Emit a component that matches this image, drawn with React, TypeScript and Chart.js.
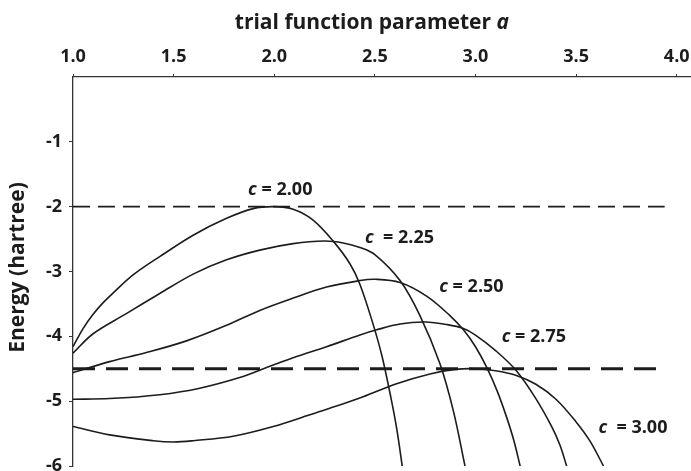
import React, { useEffect, useRef } from 'react';
import { Chart, registerables } from 'chart.js';

Chart.register(...registerables);

// ---- data (trial function parameter a, energy in hartree) ----
const c200A = [1.0, 1.05, 1.1, 1.15, 1.2, 1.3, 1.431, 1.597, 1.763, 1.895, 2.0, 2.094, 2.19, 2.29, 2.376, 2.426, 2.49, 2.535, 2.58, 2.61, 2.636];
const c200E = [-4.16, -3.88, -3.66, -3.48, -3.33, -3.05, -2.77, -2.44, -2.18, -2.03, -2.0, -2.04, -2.2, -2.52, -2.88, -3.2, -3.8, -4.3, -4.95, -5.45, -6.0];

const c225A = [1.0, 1.1, 1.265, 1.431, 1.597, 1.763, 1.928, 2.094, 2.25, 2.343, 2.426, 2.5, 2.625, 2.724, 2.823, 2.89, 2.948];
const c225E = [-4.26, -3.96, -3.65, -3.34, -3.04, -2.82, -2.67, -2.57, -2.53, -2.56, -2.63, -2.74, -3.14, -3.68, -4.42, -5.15, -6.0];

const c250A = [1.0, 1.182, 1.365, 1.564, 1.763, 1.928, 2.094, 2.26, 2.426, 2.5, 2.625, 2.757, 2.873, 2.94, 3.0, 3.056, 3.11, 3.155, 3.19, 3.222];
const c250E = [-4.56, -4.39, -4.25, -4.07, -3.83, -3.6, -3.41, -3.24, -3.14, -3.12, -3.17, -3.38, -3.68, -3.9, -4.16, -4.48, -4.86, -5.25, -5.6, -6.0];

const c275A = [1.0, 1.182, 1.431, 1.63, 1.845, 1.962, 2.094, 2.26, 2.426, 2.509, 2.625, 2.75, 2.86, 2.94, 3.0, 3.1, 3.2, 3.3, 3.38, 3.42, 3.453];
const c275E = [-4.97, -4.96, -4.9, -4.8, -4.62, -4.48, -4.33, -4.16, -3.98, -3.9, -3.81, -3.78, -3.82, -3.88, -3.98, -4.22, -4.52, -4.96, -5.4, -5.68, -6.0];

const c300A = [1.0, 1.182, 1.398, 1.5, 1.597, 1.796, 1.995, 2.177, 2.276, 2.442, 2.608, 2.774, 2.9, 3.0, 3.1, 3.2, 3.3, 3.4, 3.5, 3.57, 3.636];
const c300E = [-5.39, -5.52, -5.61, -5.63, -5.61, -5.54, -5.39, -5.21, -5.11, -4.93, -4.73, -4.58, -4.51, -4.5, -4.53, -4.6, -4.74, -4.97, -5.32, -5.62, -6.0];

const refLevelUpper = -2.0;
const refLevelLower = -4.5;
const refLineA = [1.0, 3.94];

const xTicks = [1.0, 1.5, 2.0, 2.5, 3.0, 3.5, 4.0];
const yTicks = [-1, -2, -3, -4, -5, -6];

const curveNames = ['2.00', '2.25', '2.50', '2.75', '3.00'];
const curveLabelRest = [' = 2.00', '  = 2.25', ' = 2.50', ' = 2.75', '  = 3.00'];
const curveLabelA = [1.87, 2.451, 2.82, 3.13, 3.611];
const curveLabelE = [-1.823, -2.567, -3.313, -4.083, -5.495];

const xTitle = 'trial function parameter ';
const xTitleItalic = 'a';
const yTitle = 'Energy (hartree)';

const FONT = '"Open Sans", "DejaVu Sans", sans-serif';
const INK = '#1c1c1c';

const toPoints = (xs: number[], ys: number[]) => xs.map((v, i) => ({ x: v, y: ys[i] }));

const annotPlugin = {
  id: 'annot',
  afterDraw(chart: any) {
    const { ctx, scales } = chart;
    const x = scales.x;
    const y = scales.y;
    const area = chart.chartArea;
    ctx.save();
    ctx.fillStyle = INK;
    ctx.textAlign = 'left';
    ctx.textBaseline = 'alphabetic';

    // x-axis title (top)
    ctx.font = `bold 21px ${FONT}`;
    const w1 = ctx.measureText(xTitle).width;
    ctx.font = `italic bold 21px ${FONT}`;
    const w2 = ctx.measureText(xTitleItalic).width;
    const cx = (x.getPixelForValue(xTicks[0]) + x.getPixelForValue(xTicks[xTicks.length - 1])) / 2 - 3;
    const sx = cx - (w1 + w2) / 2;
    ctx.font = `bold 21px ${FONT}`;
    ctx.fillText(xTitle, sx, 28.5);
    ctx.font = `italic bold 21px ${FONT}`;
    ctx.fillText(xTitleItalic, sx + w1, 28.5);

    // y-axis title
    ctx.save();
    ctx.translate(23.5, (area.top + area.bottom) / 2 - 4);
    ctx.rotate(-Math.PI / 2);
    ctx.textAlign = 'center';
    ctx.font = `bold 21px ${FONT}`;
    ctx.fillText(yTitle, 0, 0);
    ctx.restore();

    // curve labels
    for (let i = 0; i < curveNames.length; i++) {
      const px = x.getPixelForValue(curveLabelA[i]);
      const py = y.getPixelForValue(curveLabelE[i]);
      ctx.font = `italic bold 18px ${FONT}`;
      ctx.fillText('c', px, py);
      const cw = ctx.measureText('c').width;
      ctx.font = `bold 18px ${FONT}`;
      ctx.fillText(curveLabelRest[i], px + cw, py);
    }
    ctx.restore();
  },
};

export default function App() {
  const ref = useRef<HTMLCanvasElement | null>(null);

  useEffect(() => {
    if (!ref.current) return;
    const curveStyle = {
      borderColor: INK,
      borderWidth: 1.6,
      pointRadius: 0,
      showLine: true,
      fill: false,
      tension: 0.35,
    };
    const chart = new Chart(ref.current, {
      type: 'scatter',
      data: {
        datasets: [
          { ...curveStyle, label: 'c = ' + curveNames[0], data: toPoints(c200A, c200E) },
          { ...curveStyle, label: 'c = ' + curveNames[1], data: toPoints(c225A, c225E) },
          { ...curveStyle, label: 'c = ' + curveNames[2], data: toPoints(c250A, c250E) },
          { ...curveStyle, label: 'c = ' + curveNames[3], data: toPoints(c275A, c275E) },
          { ...curveStyle, label: 'c = ' + curveNames[4], data: toPoints(c300A, c300E) },
          {
            label: 'E = -2',
            data: refLineA.map((a) => ({ x: a, y: refLevelUpper })),
            showLine: true,
            borderColor: INK,
            borderWidth: 1.8,
            borderDash: [17, 8],
            pointRadius: 0,
          },
          {
            label: 'E = -4.5',
            data: refLineA.map((a) => ({ x: a, y: refLevelLower })),
            showLine: true,
            borderColor: INK,
            borderWidth: 3,
            borderDash: [22, 11],
            pointRadius: 0,
          },
        ],
      },
      options: {
        animation: false,
        responsive: false,
        devicePixelRatio: 1,
        layout: { padding: { top: 0, left: 0, right: 1, bottom: 14 } },
        plugins: { legend: { display: false }, tooltip: { enabled: false } },
        scales: {
          x: {
            type: 'linear',
            position: 'top',
            min: 1.0,
            max: 4.066,
            afterBuildTicks: (s: any) => {
              s.ticks = xTicks.map((v) => ({ value: v }));
            },
            afterFit: (s: any) => {
              s.height = 77;
              s.paddingLeft = 0;
              s.paddingRight = 0;
            },
            ticks: {
              color: INK,
              font: { family: FONT, size: 18, weight: 'bold' },
              padding: 6,
              maxRotation: 0,
              autoSkip: false,
              callback: (v: any) => Number(v).toFixed(1),
            },
            grid: { drawOnChartArea: false, drawTicks: true, tickLength: 3, color: '#333', lineWidth: 1 },
            border: { color: '#333', width: 1.3 },
          },
          y: {
            type: 'linear',
            min: -6,
            max: 0,
            afterBuildTicks: (s: any) => {
              s.ticks = yTicks.map((v) => ({ value: v }));
            },
            afterFit: (s: any) => {
              s.width = 73;
              s.paddingTop = 0;
              s.paddingBottom = 0;
            },
            ticks: {
              color: INK,
              font: { family: FONT, size: 18, weight: 'bold' },
              padding: 7,
              autoSkip: false,
              callback: (v: any) => String(v),
            },
            grid: { drawOnChartArea: false, drawTicks: true, tickLength: 4, color: '#333', lineWidth: 1 },
            border: { color: '#333', width: 1.3 },
          },
        },
      },
      plugins: [annotPlugin],
    });
    return () => chart.destroy();
  }, []);

  return (
    <div
      style={{
        position: 'fixed',
        left: 0,
        top: 0,
        width: 691,
        height: 471,
        overflow: 'hidden',
        background: '#fff',
      }}
    >
      <canvas ref={ref} width={691} height={480} style={{ display: 'block', width: 691, height: 480 }} />
    </div>
  );
}
